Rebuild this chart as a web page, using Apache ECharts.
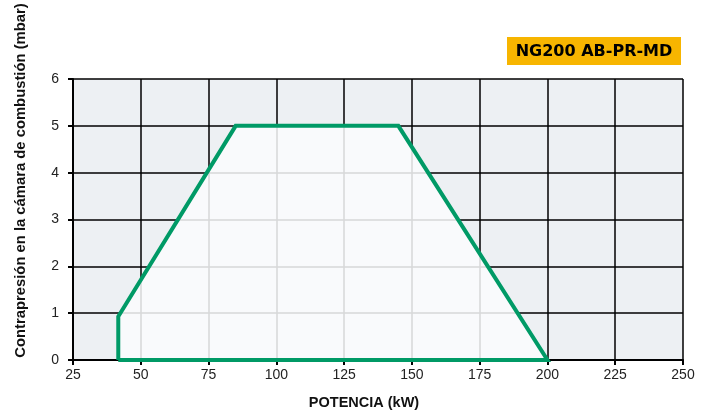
<!DOCTYPE html>
<html lang="es">
<head>
    <meta charset="utf-8">
    <script src="https://cdn.jsdelivr.net/npm/echarts@6/dist/echarts.min.js"></script>
    <style>
        html, body { margin:0; padding:0; background:#fff; }
        #main { width:715px; height:417px; }
    </style>
</head>
<body>
<div id="main"></div>
<script type="text/javascript">
    // campo de trabajo del quemador
    var potencia = [41.7, 41.7, 85, 145, 200];   // kW
    var presion  = [0, 0.93, 5, 5, 0];           // mbar
    var xTicks = [25, 50, 75, 100, 125, 150, 175, 200, 225, 250];
    var yTicks = [0, 1, 2, 3, 4, 5, 6];

    var area = [];
    for (var i = 0; i < potencia.length; i++) {
        area.push([potencia[i], presion[i]]);
    }
    // contorno cerrado
    var contorno = area.concat([[potencia[0], presion[0]]]);

    var myChart = echarts.init(document.getElementById('main'));
    var font = '"Liberation Sans", Arial, sans-serif';

    myChart.setOption({
        animation: false,
        graphic: [{
            type: 'rect',
            shape: { x: 507, y: 37, width: 174, height: 28 },
            style: { fill: '#f7b500' }
        }, {
            type: 'text',
            x: 594, y: 52,
            style: {
                text: 'NG200 AB-PR-MD',
                font: 'bold 16px "DejaVu Sans", sans-serif',
                fill: '#000',
                align: 'center', verticalAlign: 'middle'
            }
        }],
        grid: {
            left: 73, right: 32, top: 79, bottom: 57,
            show: true, backgroundColor: '#edf0f3', borderWidth: 0
        },
        xAxis: {
            type: 'value',
            min: xTicks[0], max: xTicks[xTicks.length - 1], interval: 25,
            name: 'POTENCIA (kW)',
            nameLocation: 'middle', nameGap: 35,
            nameTextStyle: { fontFamily: font, fontSize: 14.5, fontWeight: 'bold', color: '#111', padding: [0, 28, 0, 0] },
            axisLine: { lineStyle: { color: '#000', width: 2 } },
            axisTick: { show: true, length: 5, lineStyle: { color: '#000', width: 2 } },
            axisLabel: { margin: 8, fontFamily: font, fontSize: 14, color: '#222' },
            splitLine: { show: true, lineStyle: { color: '#000', width: 1.5 } }
        },
        yAxis: {
            type: 'value',
            min: yTicks[0], max: yTicks[yTicks.length - 1], interval: 1,
            name: 'Contrapresión en la cámara de combustión (mbar)',
            nameLocation: 'middle', nameGap: 45, nameRotate: 90,
            nameTextStyle: { fontFamily: font, fontSize: 14.8, fontWeight: 'bold', color: '#111', padding: [0, 0, 0, 78] },
            axisLine: { show: true, lineStyle: { color: '#000', width: 2 } },
            axisTick: { show: true, length: 5, lineStyle: { color: '#000', width: 2 } },
            axisLabel: { margin: 14, fontFamily: font, fontSize: 14, color: '#222' },
            splitLine: { show: true, lineStyle: { color: '#000', width: 1.5 } }
        },
        series: [{
            type: 'line',
            data: area,
            symbol: 'none',
            lineStyle: { width: 0 },
            areaStyle: { color: '#fafbfd', opacity: 0.86, origin: 'start' },
            z: 2
        }, {
            type: 'line',
            data: contorno,
            symbol: 'none',
            lineStyle: { color: '#009a66', width: 4, join: 'miter' },
            z: 3
        }]
    });
</script>
</body>
</html>
